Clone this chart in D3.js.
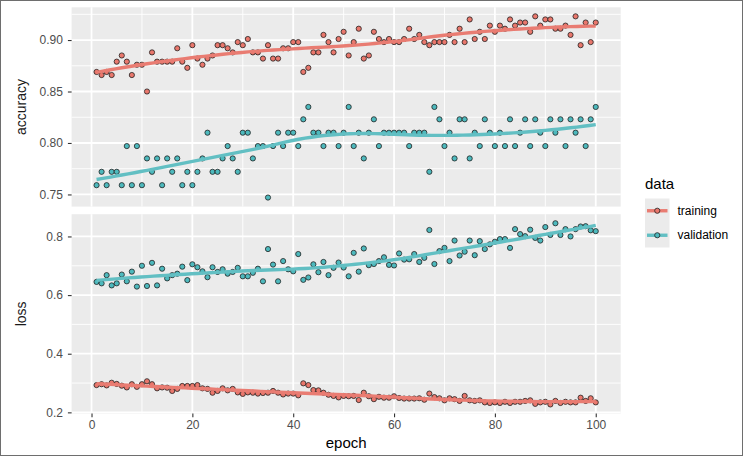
<!DOCTYPE html>
<html>
<head>
<meta charset="utf-8">
<script src="https://cdn.jsdelivr.net/npm/d3@7"></script>
<style>
  body { margin: 0; background: #fff; }
  svg { display: block; font-family: "Liberation Sans", Arial, sans-serif; }
</style>
</head>
<body>
<svg id="chart" width="743" height="456"></svg>
<script>
// Training history, one value per epoch
var epochs = d3.range(1, 101);

var accuracyTraining = [
  0.869, 0.866, 0.869, 0.866, 0.879, 0.885, 0.879, 0.866, 0.876, 0.876,
  0.850, 0.888, 0.879, 0.879, 0.879, 0.879, 0.892, 0.879, 0.873, 0.895,
  0.882, 0.876, 0.882, 0.885, 0.895, 0.895, 0.892, 0.888, 0.898, 0.895,
  0.901, 0.888, 0.888, 0.882, 0.895, 0.882, 0.882, 0.892, 0.892, 0.898,
  0.898, 0.869, 0.873, 0.888, 0.888, 0.905, 0.898, 0.888, 0.901, 0.908,
  0.885, 0.898, 0.911, 0.882, 0.885, 0.908, 0.901, 0.898, 0.901, 0.898,
  0.898, 0.901, 0.911, 0.901, 0.905, 0.898, 0.895, 0.898, 0.898, 0.898,
  0.905, 0.898, 0.911, 0.898, 0.920, 0.901, 0.908, 0.901, 0.914, 0.908,
  0.914, 0.911, 0.920, 0.914, 0.917, 0.917, 0.908, 0.923, 0.914, 0.920,
  0.920, 0.911, 0.911, 0.914, 0.905, 0.923, 0.895, 0.917, 0.898, 0.917
];

var accuracyValidation = [
  0.759, 0.772, 0.759, 0.772, 0.772, 0.759, 0.797, 0.759, 0.797, 0.759,
  0.785, 0.772, 0.785, 0.759, 0.785, 0.772, 0.785, 0.759, 0.772, 0.759,
  0.772, 0.785, 0.810, 0.772, 0.772, 0.785, 0.797, 0.785, 0.772, 0.810,
  0.810, 0.785, 0.797, 0.797, 0.747, 0.797, 0.810, 0.797, 0.810, 0.810,
  0.797, 0.823, 0.835, 0.810, 0.810, 0.797, 0.810, 0.810, 0.797, 0.810,
  0.835, 0.797, 0.810, 0.785, 0.810, 0.823, 0.797, 0.810, 0.810, 0.810,
  0.810, 0.810, 0.797, 0.810, 0.810, 0.810, 0.772, 0.835, 0.823, 0.797,
  0.810, 0.785, 0.823, 0.823, 0.785, 0.810, 0.797, 0.823, 0.810, 0.797,
  0.810, 0.797, 0.823, 0.797, 0.810, 0.823, 0.797, 0.823, 0.810, 0.797,
  0.823, 0.810, 0.823, 0.797, 0.823, 0.810, 0.823, 0.797, 0.823, 0.835
];

var lossTraining = [
  0.293, 0.296, 0.292, 0.301, 0.297, 0.291, 0.285, 0.296, 0.287, 0.296,
  0.306, 0.296, 0.282, 0.285, 0.284, 0.273, 0.280, 0.290, 0.290, 0.290,
  0.293, 0.282, 0.280, 0.267, 0.273, 0.282, 0.275, 0.280, 0.268, 0.263,
  0.268, 0.267, 0.264, 0.266, 0.267, 0.273, 0.267, 0.261, 0.264, 0.264,
  0.258, 0.299, 0.293, 0.276, 0.275, 0.267, 0.260, 0.256, 0.251, 0.256,
  0.255, 0.256, 0.242, 0.267, 0.255, 0.245, 0.253, 0.250, 0.250, 0.255,
  0.249, 0.247, 0.247, 0.247, 0.248, 0.243, 0.264, 0.252, 0.248, 0.241,
  0.248, 0.245, 0.239, 0.256, 0.241, 0.239, 0.241, 0.234, 0.232, 0.234,
  0.232, 0.236, 0.232, 0.236, 0.236, 0.239, 0.241, 0.229, 0.234, 0.236,
  0.227, 0.239, 0.232, 0.236, 0.234, 0.234, 0.250, 0.239, 0.248, 0.234
];

var lossValidation = [
  0.645, 0.640, 0.668, 0.633, 0.640, 0.670, 0.647, 0.680, 0.629, 0.700,
  0.631, 0.710, 0.633, 0.690, 0.657, 0.668, 0.673, 0.697, 0.651, 0.705,
  0.695, 0.681, 0.661, 0.695, 0.679, 0.688, 0.673, 0.679, 0.693, 0.664,
  0.664, 0.676, 0.690, 0.647, 0.757, 0.704, 0.647, 0.716, 0.688, 0.681,
  0.740, 0.652, 0.660, 0.705, 0.678, 0.713, 0.668, 0.693, 0.711, 0.694,
  0.664, 0.744, 0.680, 0.759, 0.702, 0.706, 0.716, 0.729, 0.703, 0.701,
  0.742, 0.721, 0.722, 0.740, 0.713, 0.727, 0.822, 0.706, 0.750, 0.761,
  0.716, 0.786, 0.735, 0.748, 0.786, 0.736, 0.784, 0.757, 0.773, 0.782,
  0.791, 0.791, 0.761, 0.825, 0.808, 0.801, 0.823, 0.795, 0.786, 0.832,
  0.805, 0.845, 0.805, 0.825, 0.800, 0.825, 0.834, 0.835, 0.821, 0.818
];

var seriesNames = ['training', 'validation'];
var panelNames = ['accuracy', 'loss'];
var xTicks = [0, 20, 40, 60, 80, 100];
var xMinorTicks = [10, 30, 50, 70, 90];
var accuracyTicks = [0.75, 0.80, 0.85, 0.90];
var accuracyMinor = [0.775, 0.825, 0.875, 0.925];
var lossTicks = [0.2, 0.4, 0.6, 0.8];
var lossMinor = [0.3, 0.5, 0.7];

// point fills and smooth line colours
var color = d3.scaleOrdinal()
    .domain(seriesNames)
    .range(['#E9776C', '#4DB9BD']);
var lineColor = d3.scaleOrdinal()
    .domain(seriesNames)
    .range(['#E97C72', '#62BFC3']);

// loess, degree 2, tricube weights (what geom_smooth does by default)
function loess(xs, ys, span, xout) {
  var n = xs.length;
  var q = Math.floor(n * span);
  return xout.map(function(x0) {
    var dist = xs.map(function(x) { return Math.abs(x - x0); });
    var h = dist.slice().sort(function(a, b) { return a - b; })[q - 1];
    var s = [0, 0, 0, 0, 0], t = [0, 0, 0];
    for (var i = 0; i < n; i++) {
      var r = dist[i] / h;
      if (r >= 1) continue;
      var w = Math.pow(1 - r * r * r, 3);
      var u = xs[i] - x0;
      var p = 1;
      for (var k = 0; k < 5; k++) { s[k] += w * p; if (k < 3) t[k] += w * p * ys[i]; p *= u; }
    }
    // solve 3x3 normal equations, return intercept
    var A = [[s[0], s[1], s[2], t[0]], [s[1], s[2], s[3], t[1]], [s[2], s[3], s[4], t[2]]];
    for (var c = 0; c < 3; c++) {
      for (var rr = c + 1; rr < 3; rr++) {
        var f = A[rr][c] / A[c][c];
        for (var cc = c; cc < 4; cc++) A[rr][cc] -= f * A[c][cc];
      }
    }
    var b = [0, 0, 0];
    for (var i2 = 2; i2 >= 0; i2--) {
      var sum = A[i2][3];
      for (var j = i2 + 1; j < 3; j++) sum -= A[i2][j] * b[j];
      b[i2] = sum / A[i2][i2];
    }
    return b[0];
  });
}

var svg = d3.select('#chart');
var width = 743, height = 456;

var panelLeft = 71.6, panelRight = 620.7;
var panelHeight = 199.3, panelGap = 7.6;
var panelTops = [7.3, 7.3 + panelHeight + panelGap];

var panels = [
  { name: 'accuracy', training: accuracyTraining, validation: accuracyValidation,
    ticks: accuracyTicks, minor: accuracyMinor, fmt: d3.format('.2f') },
  { name: 'loss', training: lossTraining, validation: lossValidation,
    ticks: lossTicks, minor: lossMinor, fmt: d3.format('.1f') }
];

// x scale with ggplot's 5% expansion
var xExt = d3.extent(epochs);
var xPad = (xExt[1] - xExt[0]) * 0.05;
var x = d3.scaleLinear()
    .domain([xExt[0] - xPad, xExt[1] + xPad])
    .range([panelLeft, panelRight]);

var smoothX = d3.range(80).map(function(i) { return xExt[0] + (xExt[1] - xExt[0]) * i / 79; });

// outer frame
svg.append('rect')
    .attr('x', 0.5).attr('y', 0.5)
    .attr('width', width - 1).attr('height', height - 1)
    .attr('fill', '#fff')
    .attr('stroke', '#6e6e6e');

panels.forEach(function(p, pi) {
  var top = panelTops[pi];
  var series = seriesNames.map(function(s) {
    var vals = p[s];
    return { key: s, values: vals, smooth: loess(epochs, vals, 0.75, smoothX) };
  });

  var all = [];
  series.forEach(function(s) { all = all.concat(s.values, s.smooth); });
  var yExt = d3.extent(all);
  var yPad = (yExt[1] - yExt[0]) * 0.05;
  var y = d3.scaleLinear()
      .domain([yExt[0] - yPad, yExt[1] + yPad])
      .range([top + panelHeight, top]);

  var g = svg.append('g').attr('class', 'panel');

  g.append('rect')
      .attr('x', panelLeft).attr('y', top)
      .attr('width', panelRight - panelLeft).attr('height', panelHeight)
      .attr('fill', '#EBEBEB');

  // minor grid
  g.selectAll('.ymin').data(p.minor.filter(function(v) { return v > y.domain()[0] && v < y.domain()[1]; }))
    .enter().append('line')
      .attr('x1', panelLeft).attr('x2', panelRight)
      .attr('y1', y).attr('y2', y)
      .attr('stroke', '#fff').attr('stroke-width', 0.9);
  g.selectAll('.xmin').data(xMinorTicks)
    .enter().append('line')
      .attr('x1', x).attr('x2', x)
      .attr('y1', top).attr('y2', top + panelHeight)
      .attr('stroke', '#fff').attr('stroke-width', 0.9);

  // major grid
  g.selectAll('.ymaj').data(p.ticks)
    .enter().append('line')
      .attr('x1', panelLeft).attr('x2', panelRight)
      .attr('y1', y).attr('y2', y)
      .attr('stroke', '#fff').attr('stroke-width', 1.8);
  g.selectAll('.xmaj').data(xTicks)
    .enter().append('line')
      .attr('x1', x).attr('x2', x)
      .attr('y1', top).attr('y2', top + panelHeight)
      .attr('stroke', '#fff').attr('stroke-width', 1.8);

  // points
  series.forEach(function(s) {
    g.append('g').selectAll('circle')
        .data(s.values)
      .enter().append('circle')
        .attr('cx', function(d, i) { return x(epochs[i]); })
        .attr('cy', function(d) { return y(d); })
        .attr('r', 2.6)
        .attr('fill', color(s.key))
        .attr('stroke', '#222')
        .attr('stroke-width', 0.8);
  });

  // smooth lines
  var line = d3.line()
      .x(function(d, i) { return x(smoothX[i]); })
      .y(function(d) { return y(d); });
  series.forEach(function(s) {
    g.append('path')
        .datum(s.smooth)
        .attr('d', line)
        .attr('fill', 'none')
        .attr('stroke', lineColor(s.key))
        .attr('stroke-width', 3.4);
  });

  // y axis
  var yAxis = svg.append('g')
      .attr('transform', 'translate(' + panelLeft + ',0)')
      .call(d3.axisLeft(y).tickValues(p.ticks).tickFormat(p.fmt).tickSize(3.7).tickPadding(5));
  yAxis.select('.domain').remove();
  yAxis.selectAll('line').attr('stroke', '#333').attr('stroke-width', 1.1);
  yAxis.selectAll('text').attr('fill', '#4D4D4D').style('font-size', '12px')
      .style('font-family', '"Liberation Sans", Arial, sans-serif');

  // strip label on the left
  svg.append('text')
      .attr('transform', 'translate(26,' + (top + panelHeight / 2) + ') rotate(-90)')
      .attr('text-anchor', 'middle')
      .attr('fill', '#1A1A1A')
      .style('font-size', '14px')
      .text(p.name);

  if (pi === panels.length - 1) {
    var xAxis = svg.append('g')
        .attr('transform', 'translate(0,' + (top + panelHeight) + ')')
        .call(d3.axisBottom(x).tickValues(xTicks).tickSize(3.7).tickPadding(3));
    xAxis.select('.domain').remove();
    xAxis.selectAll('line').attr('stroke', '#333').attr('stroke-width', 1.1);
    xAxis.selectAll('text').attr('fill', '#4D4D4D').style('font-size', '12px')
        .style('font-family', '"Liberation Sans", Arial, sans-serif');
  }
});

// x axis title
svg.append('text')
    .attr('x', (panelLeft + panelRight) / 2)
    .attr('y', 448)
    .attr('text-anchor', 'middle')
    .attr('fill', '#000')
    .style('font-size', '15px')
    .text('epoch');

// legend
var legend = svg.append('g').attr('transform', 'translate(645,0)');
legend.append('text')
    .attr('x', 0).attr('y', 189)
    .attr('fill', '#000')
    .style('font-size', '15px')
    .text('data');

var keySize = 24.5;
var keys = legend.selectAll('.key')
    .data(seriesNames)
  .enter().append('g')
    .attr('transform', function(d, i) { return 'translate(0,' + (198.5 + i * keySize) + ')'; });
keys.append('rect')
    .attr('width', keySize).attr('height', keySize)
    .attr('fill', '#EBEBEB');
keys.append('line')
    .attr('x1', 2).attr('x2', keySize - 2)
    .attr('y1', keySize / 2).attr('y2', keySize / 2)
    .attr('stroke', function(d) { return lineColor(d); })
    .attr('stroke-width', 3.4);
keys.append('circle')
    .attr('cx', keySize / 2).attr('cy', keySize / 2)
    .attr('r', 2.6)
    .attr('fill', function(d) { return color(d); })
    .attr('stroke', '#222').attr('stroke-width', 0.8);
keys.append('text')
    .attr('x', keySize + 8).attr('y', keySize / 2)
    .attr('dy', '0.35em')
    .attr('fill', '#000')
    .style('font-size', '12px')
    .text(function(d) { return d; });
</script>
</body>
</html>
